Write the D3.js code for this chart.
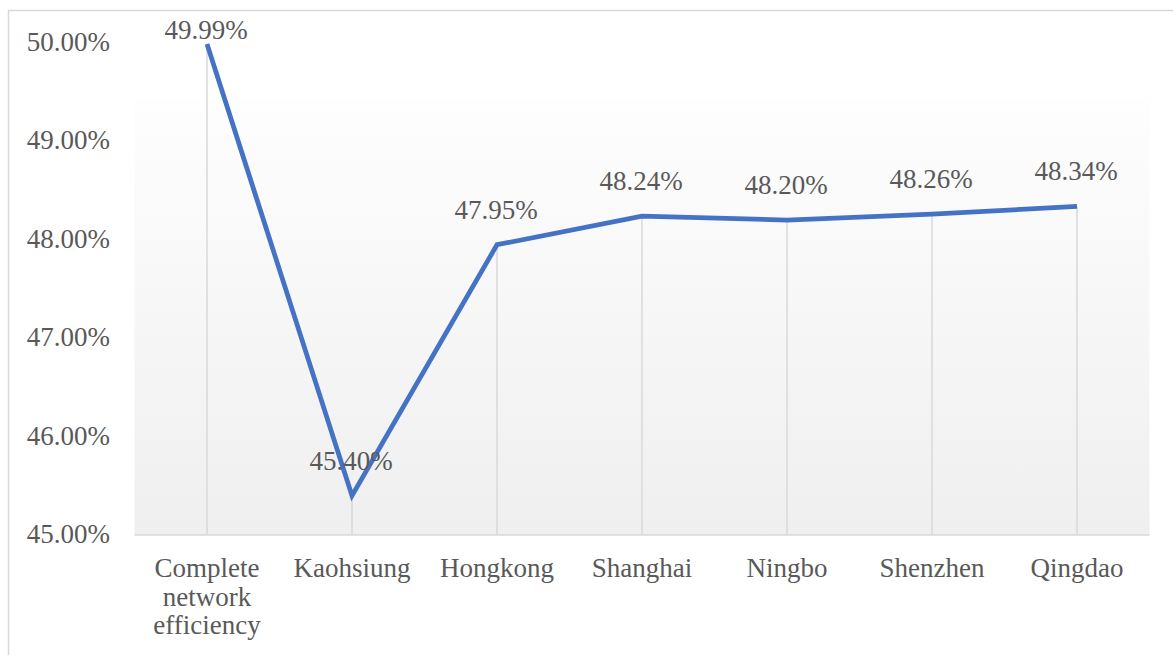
<!DOCTYPE html>
<html>
<head>
<meta charset="utf-8">
<script src="https://cdn.jsdelivr.net/npm/d3@7"></script>
<style>
  body { margin: 0; background: #fff; }
  svg text { font-family: "Liberation Serif", "Times New Roman", serif; fill: #595959; }
</style>
</head>
<body>
<svg id="chart" width="1173" height="655"></svg>
<script>
var categories = ["Complete network efficiency", "Kaohsiung", "Hongkong", "Shanghai", "Ningbo", "Shenzhen", "Qingdao"];
var values = [49.99, 45.40, 47.95, 48.24, 48.20, 48.26, 48.34];
var yTicks = [45, 46, 47, 48, 49, 50];

var svg = d3.select("#chart"),
    width = +svg.attr("width"),
    height = +svg.attr("height");

var plot = { left: 134.5, right: 1149.5, top: 98, bottom: 535 };
var fontSize = "27px";

var x = d3.scaleBand()
    .domain(categories)
    .range([plot.left, plot.right]);

var y = d3.scaleLinear()
    .domain([45, 50])
    .range([535, 43]);

// outer chart border
svg.append("rect")
    .attr("x", 8.5)
    .attr("y", 10.5)
    .attr("width", width + 20)
    .attr("height", height + 20)
    .attr("fill", "#fff")
    .attr("stroke", "#d9d9d9")
    .attr("stroke-width", 1.5);

// plot area gradient
var grad = svg.append("defs").append("linearGradient")
    .attr("id", "plotGrad")
    .attr("x1", 0).attr("y1", 0)
    .attr("x2", 0).attr("y2", 1);
grad.append("stop").attr("offset", "0%").attr("stop-color", "#fefefe");
grad.append("stop").attr("offset", "100%").attr("stop-color", "#efefef");

svg.append("rect")
    .attr("x", plot.left)
    .attr("y", plot.top)
    .attr("width", plot.right - plot.left)
    .attr("height", plot.bottom - plot.top)
    .attr("fill", "url(#plotGrad)");

function cx(d) {
    return x(d) + x.bandwidth() / 2;
}

// drop lines
svg.append("g")
    .selectAll("line")
    .data(categories)
    .enter().append("line")
    .attr("x1", function (d) { return cx(d); })
    .attr("x2", function (d) { return cx(d); })
    .attr("y1", function (d, i) { return y(values[i]); })
    .attr("y2", y(45))
    .attr("stroke", "#d9d9d9")
    .attr("stroke-width", 1.5);

// x axis line
svg.append("line")
    .attr("x1", plot.left)
    .attr("x2", plot.right)
    .attr("y1", y(45))
    .attr("y2", y(45))
    .attr("stroke", "#d9d9d9")
    .attr("stroke-width", 1.5);

// y axis labels
svg.append("g")
    .selectAll("text")
    .data(yTicks)
    .enter().append("text")
    .attr("x", 110)
    .attr("y", function (d) { return y(d) + 8; })
    .attr("text-anchor", "end")
    .style("font-size", fontSize)
    .text(function (d) { return d.toFixed(2) + "%"; });

// x axis labels (wrapped)
var xLabels = svg.append("g")
    .selectAll("text")
    .data(categories)
    .enter().append("text")
    .attr("text-anchor", "middle")
    .style("font-size", fontSize)
    .attr("y", 577);

xLabels.each(function (d) {
    var t = d3.select(this);
    var words = d.split(" ");
    var lines = [];
    var cur = "";
    var probe = t.append("tspan");
    words.forEach(function (w) {
        var test = cur ? cur + " " + w : w;
        probe.text(test);
        if (cur && probe.node().getComputedTextLength() > x.bandwidth() - 10) {
            lines.push(cur);
            cur = w;
        } else {
            cur = test;
        }
    });
    lines.push(cur);
    probe.remove();
    lines.forEach(function (ln, i) {
        t.append("tspan")
            .attr("x", cx(d))
            .attr("y", 577 + i * 28.5)
            .text(ln);
    });
});

// line series
var line = d3.line()
    .x(function (d, i) { return cx(categories[i]); })
    .y(function (d) { return y(d); });

svg.append("path")
    .datum(values)
    .attr("d", line)
    .attr("fill", "none")
    .attr("stroke", "#4472c4")
    .attr("stroke-width", 4.75)
    .attr("stroke-linejoin", "miter");

// data labels
svg.append("g")
    .selectAll("text")
    .data(values)
    .enter().append("text")
    .attr("x", function (d, i) { return cx(categories[i]) - 1; })
    .attr("y", function (d) { return Math.max(y(d) - 26, 39); })
    .attr("text-anchor", "middle")
    .style("font-size", fontSize)
    .text(function (d) { return d.toFixed(2) + "%"; });
</script>
</body>
</html>
